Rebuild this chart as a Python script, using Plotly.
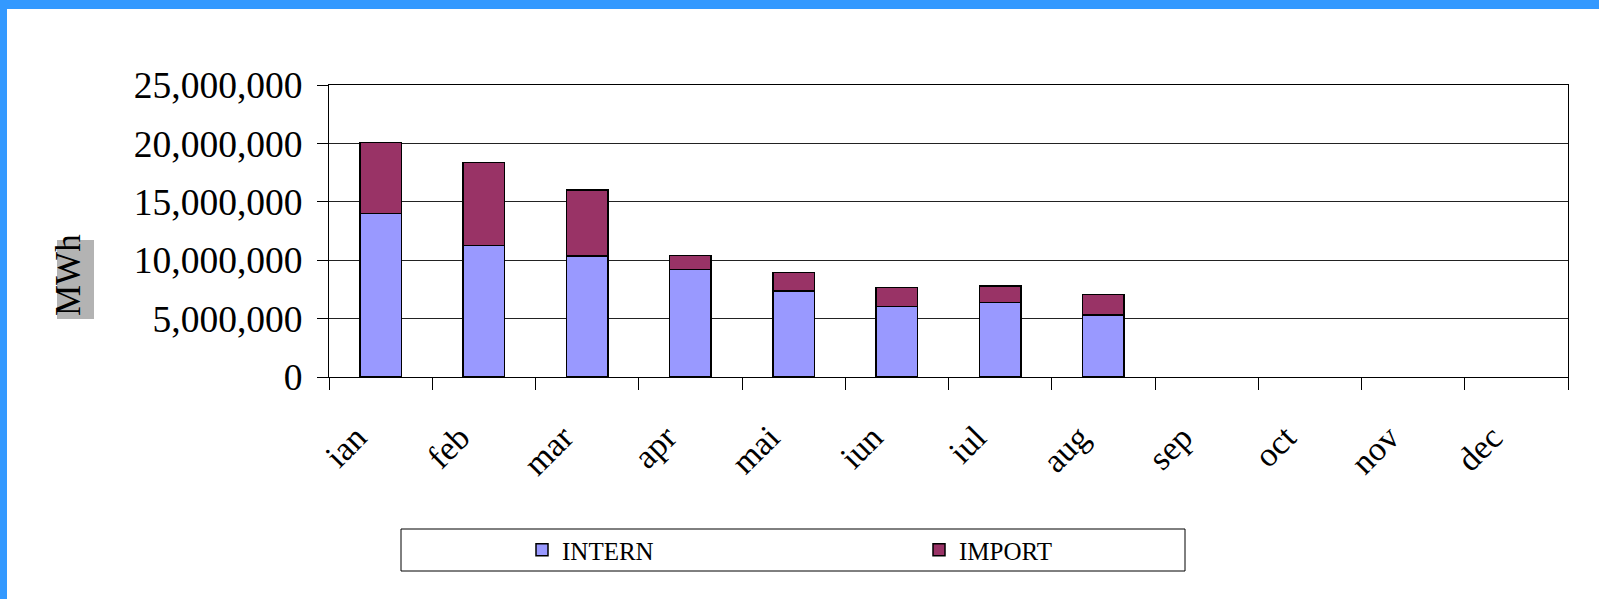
import plotly.graph_objects as go

months = ["ian", "feb", "mar", "apr", "mai", "iun", "iul", "aug", "sep", "oct", "nov", "dec"]
intern = [14010000, 11240000, 10360000, 9220000, 7360000, 6020000, 6360000, 5310000, None, None, None, None]
import_ = [6080000, 7110000, 5650000, 1170000, 1600000, 1630000, 1430000, 1770000, None, None, None, None]

FONT = "Liberation Serif"

fig = go.Figure()
fig.add_trace(go.Bar(name="INTERN", x=months, y=intern,
                     marker=dict(color="#9999FF", line=dict(color="black", width=1.5))))
fig.add_trace(go.Bar(name="IMPORT", x=months, y=import_,
                     marker=dict(color="#993366", line=dict(color="black", width=1.5))))

L, R, T, B = 329, 31, 85, 222
W = 1599 - L - R
H = 599 - T - B

def px(x):
    return (x - L) / W

def py(y):
    return (599 - B - y) / H

fig.update_layout(
    barmode="stack",
    bargap=0.6,
    width=1599, height=599,
    margin=dict(l=L, r=R, t=T, b=B),
    paper_bgcolor="white", plot_bgcolor="white",
    font=dict(family=FONT, color="black"),
    showlegend=True,
    legend=dict(orientation="h", x=px(522), xanchor="left", y=py(550), yanchor="middle",
                font=dict(family=FONT, size=25, color="black"),
                bgcolor="rgba(0,0,0,0)", borderwidth=0, entrywidth=352,
                traceorder="normal"),
    xaxis=dict(type="category", showline=True, linecolor="black", linewidth=1, mirror=True,
               ticks="outside", tickson="boundaries", ticklen=12, tickcolor="black",
               tickangle=-45, tickfont=dict(family=FONT, size=34, color="black"),
               ticklabelstandoff=26, ticklabelshift=-24, showgrid=False),
    yaxis=dict(range=[0, 25000000], dtick=5000000, tickformat=",d",
               showline=True, linecolor="black", linewidth=1, mirror=True,
               ticks="outside", ticklen=11, tickcolor="black",
               tickfont=dict(family=FONT, size=37.5, color="black"),
               ticklabelstandoff=7,
               showgrid=True, gridcolor="#222222", gridwidth=1, zeroline=False),
    shapes=[
        dict(type="rect", xref="paper", yref="paper", x0=px(0), x1=px(1599), y0=py(0), y1=py(9),
             fillcolor="#3399FF", line=dict(width=0), layer="above"),
        dict(type="rect", xref="paper", yref="paper", x0=px(0), x1=px(7), y0=py(0), y1=py(599),
             fillcolor="#3399FF", line=dict(width=0), layer="above"),
        dict(type="rect", xref="paper", yref="paper", x0=px(57), x1=px(94), y0=py(240), y1=py(319),
             fillcolor="#B3B3B3", line=dict(width=0), layer="below"),
        dict(type="rect", xref="paper", yref="paper", x0=px(401), x1=px(1185), y0=py(529), y1=py(571),
             fillcolor="rgba(0,0,0,0)", line=dict(color="black", width=1)),
    ],
    annotations=[
        dict(text="MWh", xref="paper", yref="paper", x=px(68), y=py(275), xanchor="center",
             yanchor="middle", showarrow=False, textangle=-90,
             font=dict(family=FONT, size=35, color="black")),
    ],
)

fig.write_html("out.html", config={"displayModeBar": False},
               post_script="document.body.style.margin='0';document.body.style.overflow='hidden';")
